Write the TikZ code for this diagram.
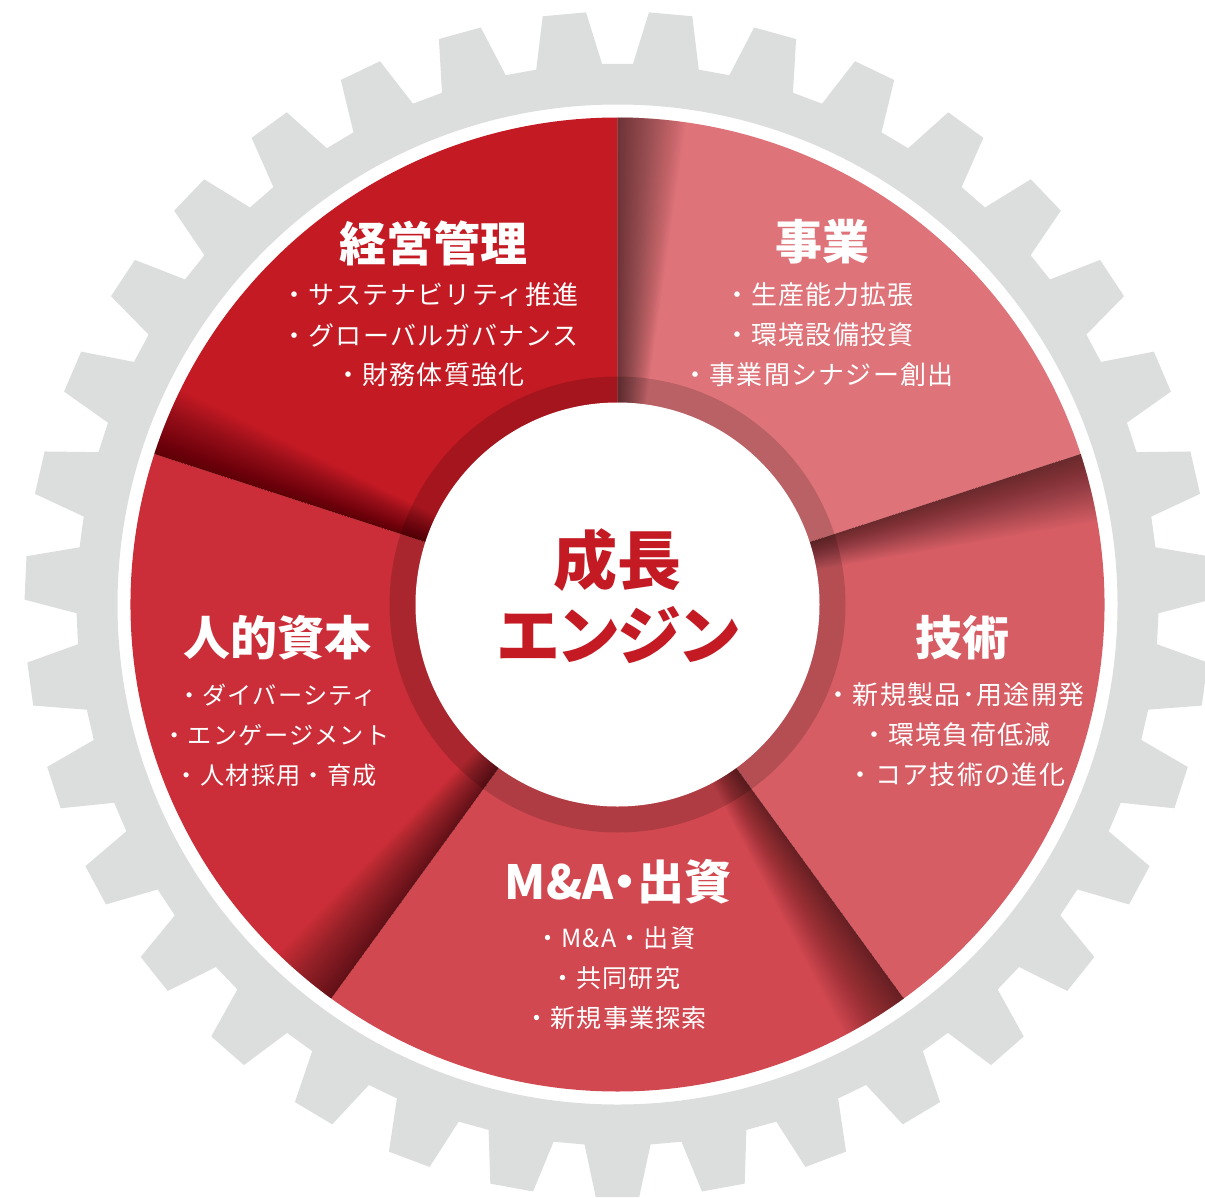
\documentclass[tikz,border=0pt]{standalone}
\usepackage{fontspec}
\newfontfamily\jp{Noto Sans CJK JP}
\newfontfamily\jpi[LetterSpace=5]{Noto Sans CJK JP}
\newfontfamily\jpp[RawFeature=+palt]{Noto Sans CJK JP}
\definecolor{gearg}{HTML}{DCDDDD}
\definecolor{cKei}{HTML}{C41A24}
\definecolor{cJig}{HTML}{DE747A}
\definecolor{cGij}{HTML}{D75D64}
\definecolor{cMA}{HTML}{D24850}
\definecolor{cJin}{HTML}{CB2E38}
\newcommand\mysector[3]{\fill[#3] (0,0) -- (#1:487) arc[start angle=#1, end angle=#2, radius=487] -- cycle;}
\newcommand\myshadow[1]{\foreach \d in {1,...,30}{\fill[black, opacity=0.02] (#1:202) -- (#1:487) arc[start angle=#1, end angle={#1-0.27*\d}, radius=487] -- ({#1-0.27*\d}:202) -- cycle;}}
\tikzset{
  ttl/.style={text=white, font=\jp\bfseries\fontsize{47}{50}\selectfont, inner sep=0pt},
  ttlp/.style={text=white, font=\jpp\bfseries\fontsize{47}{50}\selectfont, inner sep=0pt},
  itm/.style={text=white, font=\jpi\fontsize{26}{28}\selectfont, inner sep=0pt},
  itmm/.style={text=white, font=\jpi\fontsize{25}{28}\selectfont, inner sep=0pt},
  itms/.style={text=white, font=\jpi\fontsize{24.2}{28}\selectfont, inner sep=0pt},
  ctr/.style={text=cKei, font=\jp\bfseries\fontsize{64}{70}\selectfont, inner sep=0pt},
  ctrp/.style={text=cKei, font=\jpp\bfseries\fontsize{64}{70}\selectfont, inner sep=0pt}
}
\begin{document}
\begin{tikzpicture}[x=1pt,y=-1pt]
\useasboundingbox (0,0) rectangle (1205,1197);
\clip (0,0) rectangle (1205,1197);
\begin{scope}[shift={(617.5,604.5)}, y=1pt]
  % gear
  \fill[gearg, even odd rule] ({95.143-3.5}:541)
    \foreach \k in {0,...,34}{
      -- ({95.143+\k*10.2857-3.5}:541) -- ({95.143+\k*10.2857-2.1}:593)
      -- ({95.143+\k*10.2857+2.1}:593) -- ({95.143+\k*10.2857+3.5}:541)
    } -- cycle
    (0,0) circle[radius=500];
  % sectors
  \mysector{18}{90}{cJig}
  \mysector{90}{162}{cKei}
  \mysector{162}{234}{cJin}
  \mysector{234}{306}{cMA}
  \mysector{306}{378}{cGij}
  % shadows on counter-clockwise edges
  \myshadow{90}
  \myshadow{162}
  \myshadow{234}
  \myshadow{306}
  \myshadow{378}
  % inner ring and centre
  \fill[black, opacity=0.16, even odd rule] (0,0) circle[radius=228] (0,0) circle[radius=202];
  \fill[white] (0,0) circle[radius=202];
\end{scope}
% titles and items
\node[ttl] (t1) at (433,243) {経営管理};
\node[itm] (t1a) at (430,295) {・サステナビリティ推進};
\node[itm] (t1b) at (430,335) {・グローバルガバナンス};
\node[itm] (t1c) at (430,375) {・財務体質強化};
\node[ttl] (t2) at (822,242) {事業};
\node[itm] (t2a) at (819,295) {・生産能力拡張};
\node[itm] (t2b) at (819,335) {・環境設備投資};
\node[itm] (t2c) at (818,375) {・事業間シナジー創出};
\node[ttl] (t3) at (277.5,638) {人的資本};
\node[itms] (t3a) at (277,695) {・ダイバーシティ};
\node[itms] (t3b) at (276,735) {・エンゲージメント};
\node[itms] (t3c) at (276,775) {・人材採用・育成};
\node[ttl] (t4) at (962,638) {技術};
\node[itm] (t4a) at (955,695) {・新規製品･用途開発};
\node[itm] (t4b) at (956,735) {・環境負荷低減};
\node[itm] (t4c) at (956.5,775) {・コア技術の進化};
\node[ttlp] (t5) at (618,882) {M\&A・出資};
\node[itmm] (t5a) at (615,938) {・M\&A・出資};
\node[itmm] (t5b) at (615,978) {・共同研究};
\node[itmm] (t5c) at (615.5,1018) {・新規事業探索};
\node[ctr] (c1) at (617.5,560) {成長};
\node[ctrp] (c2) at (618,635) {エンジン};
\end{tikzpicture}
\end{document}
